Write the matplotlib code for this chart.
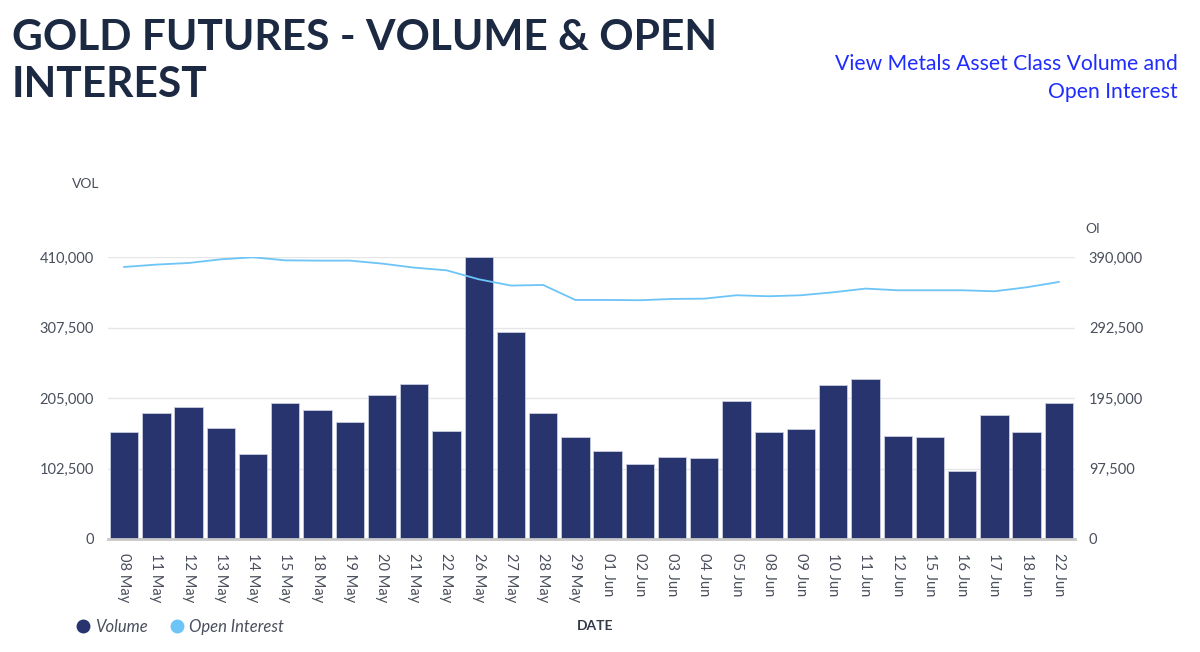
import matplotlib
matplotlib.use("Agg")
import matplotlib.pyplot as plt
from matplotlib.lines import Line2D

dates = ["08 May", "11 May", "12 May", "13 May", "14 May", "15 May", "18 May", "19 May",
         "20 May", "21 May", "22 May", "26 May", "27 May", "28 May", "29 May", "01 Jun",
         "02 Jun", "03 Jun", "04 Jun", "05 Jun", "08 Jun", "09 Jun", "10 Jun", "11 Jun",
         "12 Jun", "15 Jun", "16 Jun", "17 Jun", "18 Jun", "22 Jun"]
volume = [155000, 182600, 191300, 161200, 123000, 197100, 187800, 169500,
          209100, 224700, 157300, 409600, 301600, 183500, 147700, 127400,
          108900, 118600, 118200, 200900, 155000, 159300, 224100, 231900,
          149600, 147700, 98300, 180100, 155400, 197100]
open_interest = [376200, 379500, 381700, 386800, 389600, 385400, 385000, 385000,
                 380900, 375300, 371600, 359200, 350500, 351300, 330600, 330600,
                 330200, 332000, 332400, 337100, 335700, 337100, 341200, 346300,
                 344000, 344000, 344000, 342600, 348100, 355500]
vol_ticks = [0, 102500, 205000, 307500, 410000]
oi_ticks = [0, 97500, 195000, 292500, 390000]

BAR = "#27346e"
LINE = "#6cc4f7"
TXT = "#4a4f5c"
FONT = "Lato"

fig = plt.figure(figsize=(12, 6.52), dpi=100)
ax = fig.add_axes([108/1200, 1-539/652, 967/1200, (539-257)/652])
x = list(range(len(dates)))
ax.bar(x, volume, width=0.88, color=BAR, edgecolor="#c9cde0", linewidth=0.6, zorder=2, clip_on=False)
ax.set_xlim(-0.5, len(dates)-0.5)
ax.set_ylim(0, 410000)
ax.set_yticks(vol_ticks)
ax.set_yticklabels([f"{v:,}" for v in vol_ticks], fontsize=10.5, color=TXT, family=FONT)
ax.set_xticks(x)
ax.set_xticklabels(dates, rotation=270, fontsize=10.5, color=TXT, family=FONT, va="top", ha="center")
ax.tick_params(axis="both", length=0)
ax.tick_params(axis="y", pad=10)
ax.tick_params(axis="x", pad=10)
ax.grid(axis="y", color="#e6e6e6", linewidth=1, zorder=0)
for s in ["top", "right", "left"]:
    ax.spines[s].set_visible(False)
ax.spines["bottom"].set_color("#c8c8c8")
ax.spines["bottom"].set_linewidth(2)
ax.spines["bottom"].set_zorder(3)

ax2 = ax.twinx()
ax2.plot(x, open_interest, color=LINE, linewidth=1.3, zorder=3)
ax2.set_ylim(0, 390000)
ax2.set_yticks(oi_ticks)
ax2.set_yticklabels([f"{v:,}" for v in oi_ticks], fontsize=10.5, color=TXT, family=FONT)
ax2.tick_params(axis="y", length=0, pad=10)
for s in ["top", "right", "left", "bottom"]:
    ax2.spines[s].set_visible(False)

fig.text(12/1200, 1-97/652, "GOLD FUTURES - VOLUME & OPEN\nINTEREST", fontsize=30.6, fontweight="bold",
         color="#1b2942", family=FONT, ha="left", va="baseline", linespacing=1.28)
fig.text(1178/1200, 1-98/652, "View Metals Asset Class Volume and\nOpen Interest", fontsize=15.2,
         color="#1f2bff", family=FONT, ha="right", va="baseline", linespacing=1.48)
fig.text(86/1200, 1-184/652, "VOL", fontsize=10, color=TXT, family=FONT, ha="center", va="center")
fig.text(1093/1200, 1-229/652, "OI", fontsize=10, color=TXT, family=FONT, ha="center", va="center")
fig.text(595/1200, 1-626/652, "DATE", fontsize=10, color="#333a48", family=FONT, fontweight="bold",
         ha="center", va="center")

handles = [Line2D([], [], marker="o", linestyle="none", markersize=9, color=BAR, label="Volume"),
           Line2D([], [], marker="o", linestyle="none", markersize=9, color=LINE, label="Open Interest")]
leg = fig.legend(handles=handles, loc="center left", bbox_to_anchor=(58/1200, 1-627/652), ncol=2,
                 frameon=False, handletextpad=0.1, columnspacing=1.2, handlelength=1.2,
                 prop={"family": FONT, "style": "italic", "size": 12})
for t in leg.get_texts():
    t.set_color(TXT)

fig.savefig("out.png", dpi=100)
